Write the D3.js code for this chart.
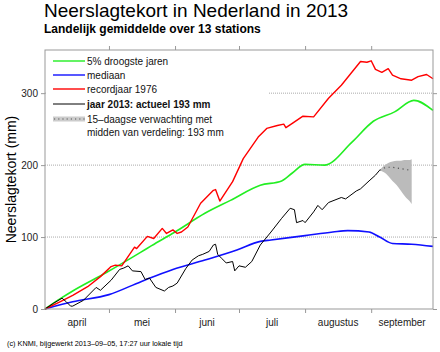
<!DOCTYPE html>
<html>
<head>
<meta charset="utf-8">
<script src="https://cdn.jsdelivr.net/npm/d3@7"></script>
<style>
  body { margin: 0; background: #fff; }
  svg { font-family: "Liberation Sans", Arial, Helvetica, sans-serif; }
</style>
</head>
<body>
<div id="chart"></div>
<script>
// Data (days counted from 1 April 2013, values in mm)
const months = ["april", "mei", "juni", "juli", "augustus", "september"];
const yTicks = [0, 100, 200, 300];

const greenDays = [0, 7, 13, 29, 45, 50, 61, 75, 87, 101, 111, 116, 122, 131, 144, 154, 164, 173, 182];
const greenVals = [0, 14, 25, 51, 79, 88, 107, 133, 151, 172, 178, 189, 201, 200, 232, 261, 274, 290, 276];

const blueDays = [0, 13, 30, 45, 60, 75, 90, 101, 106, 122, 135, 142, 152, 157, 163, 172, 182];
const blueVals = [0, 10, 20, 38, 55, 68, 82, 94, 96, 102, 107, 109, 107, 100, 91, 90, 87];

const redDays = [0, 7, 13, 20, 26, 31, 33, 36, 42, 43, 48, 51, 55, 57, 60, 62, 64, 67, 73, 79, 80, 82, 88, 93, 100, 104, 109, 112, 113, 116, 121, 126, 133, 139, 148, 151, 153, 155, 158, 161, 163, 167, 172, 175, 179, 182];
const redVals = [0, 10, 19, 31, 45, 59, 61, 60, 86, 84, 101, 98, 112, 105, 110, 105, 107, 114, 147, 165, 166, 150, 177, 209, 239, 251, 255, 257, 252, 258, 268, 267, 293, 311, 344, 343, 345, 333, 329, 334, 325, 320, 318, 323, 326, 320];

const blackDays = [0, 4, 8, 10, 12, 13, 18, 24, 26, 31, 35, 37, 39, 41, 45, 47, 49, 52, 56, 58, 60, 62, 66, 69, 72, 74, 77, 79, 80, 81, 83, 85, 88, 89, 91, 94, 97, 101, 106, 111, 115, 117, 118, 121, 122, 126, 128, 130, 133, 139, 141, 146, 148, 152, 155, 157];
const blackVals = [0, 8, 15, 10, 4, 4, 12, 30, 26, 40, 55, 57, 60, 53, 52, 41, 43, 30, 25, 30, 32, 36, 56, 68, 74, 76, 80, 89, 90, 76, 70, 64, 66, 53, 60, 58, 66, 89, 107, 126, 140, 138, 120, 123, 120, 135, 144, 138, 148, 155, 153, 164, 167, 178, 186, 193];

const fcDays = [157, 159, 161, 163, 165, 167, 169, 171, 172];
const fcMid  = [193, 196, 197, 197, 196, 195, 194, 193, 192];
const fcLow  = [193, 190, 185, 178, 172, 164, 156, 150, 146];
const fcHigh = [193, 199, 203, 205, 206, 206, 207, 207, 208];

const legendLabels = ["5% droogste jaren", "mediaan", "recordjaar 1976", "jaar 2013: actueel 193 mm", "15\u2013daagse verwachting met", "midden van verdeling: 193 mm"];

// Layout
const W = 440, H = 352;
const m = { left: 45, right: 7, top: 50, bottom: 43 };

const svg = d3.select("#chart").append("svg")
    .attr("width", W).attr("height", H);

const start = new Date(2013, 3, 1);
const end = new Date(2013, 8, 30);
const day = d => new Date(start.getTime() + d * 864e5);

const x = d3.scaleTime().domain([start, end]).range([m.left, W - m.right]);
const y = d3.scaleLinear().domain([0, 360]).range([H - m.bottom, m.top]);

const zip = (ds, vs) => ds.map((d, i) => ({ date: day(d), v: vs[i] }));

// Grid
svg.append("g").selectAll("line")
    .data(yTicks.slice(1))
    .enter().append("line")
    .attr("x1", m.left).attr("x2", W - m.right)
    .attr("y1", d => y(d)).attr("y2", d => y(d))
    .attr("stroke", "#aaa")
    .attr("stroke-dasharray", "1,1");

// Legend background covers the grid
svg.append("rect")
    .attr("x", m.left + 1).attr("y", m.top + 1)
    .attr("width", 223).attr("height", 90)
    .attr("fill", "#fff");

// Forecast band
const fc = fcDays.map((d, i) => ({ date: day(d), lo: fcLow[i], hi: fcHigh[i], mid: fcMid[i] }));
svg.append("path")
    .datum(fc)
    .attr("d", d3.area().x(d => x(d.date)).y0(d => y(d.lo)).y1(d => y(d.hi)).curve(d3.curveMonotoneX))
    .attr("fill", "#bbb");
svg.append("path")
    .datum(fc)
    .attr("d", d3.line().x(d => x(d.date)).y(d => y(d.mid)))
    .attr("fill", "none")
    .attr("stroke", "#555")
    .attr("stroke-width", 1.2)
    .attr("stroke-dasharray", "1.2,3.5");

// Lines
const line = d3.line().x(d => x(d.date)).y(d => y(d.v));
const smooth = d3.line().x(d => x(d.date)).y(d => y(d.v)).curve(d3.curveMonotoneX);

const series = [
    { data: zip(blueDays, blueVals), color: "#1010ff", w: 1.6, gen: smooth },
    { data: zip(greenDays, greenVals), color: "#22ee22", w: 1.6, gen: smooth },
    { data: zip(redDays, redVals), color: "#ff0000", w: 1.4, gen: line },
    { data: zip(blackDays, blackVals), color: "#000", w: 1, gen: line }
];
series.forEach(s => {
    svg.append("path")
        .datum(s.data)
        .attr("d", s.gen)
        .attr("fill", "none")
        .attr("stroke", s.color)
        .attr("stroke-width", s.w)
        .attr("stroke-linejoin", "round");
});

// Frame
svg.append("rect")
    .attr("x", m.left).attr("y", m.top)
    .attr("width", W - m.left - m.right).attr("height", H - m.top - m.bottom)
    .attr("fill", "none")
    .attr("stroke", "#999");

// Axes
const monthTicks = d3.timeMonth.range(d3.timeMonth.offset(start, 1), end);
const tickStyle = g => {
    g.select(".domain").remove();
    g.selectAll(".tick line").attr("stroke", "#999");
};
svg.append("g")
    .attr("transform", `translate(0,${H - m.bottom})`)
    .call(d3.axisBottom(x).tickValues(monthTicks).tickSize(4).tickFormat(""))
    .call(tickStyle);
svg.append("g")
    .attr("transform", `translate(0,${m.top})`)
    .call(d3.axisTop(x).tickValues(monthTicks).tickSize(4).tickFormat(""))
    .call(tickStyle);
svg.append("g")
    .attr("transform", `translate(${m.left},0)`)
    .call(d3.axisLeft(y).tickValues(yTicks).tickSize(4).tickPadding(3))
    .call(tickStyle)
    .call(g => g.selectAll("text").attr("fill", "#222").style("font-size", "10px").style("font-family", "inherit"));
svg.append("g")
    .attr("transform", `translate(${W - m.right},0)`)
    .call(d3.axisRight(y).tickValues(yTicks).tickSize(4).tickFormat(""))
    .call(tickStyle);

// Month labels, centred in each month
const monthStarts = d3.timeMonth.range(start, end);
svg.append("g").selectAll("text")
    .data(months)
    .enter().append("text")
    .attr("x", (d, i) => (x(monthStarts[i]) + x(i < 5 ? monthStarts[i + 1] : end)) / 2)
    .attr("y", H - m.bottom + 17)
    .attr("text-anchor", "middle")
    .style("font-size", "10px")
    .attr("fill", "#222")
    .text(d => d);

// Titles
svg.append("text").attr("x", 44).attr("y", 17)
    .style("font-size", "19px").text("Neerslagtekort in Nederland in 2013");
svg.append("text").attr("x", 44).attr("y", 33)
    .style("font-size", "12px").style("font-weight", "bold")
    .text("Landelijk gemiddelde over 13 stations");
svg.append("text")
    .attr("transform", `translate(16,${(m.top + H - m.bottom) / 2}) rotate(-90)`)
    .attr("text-anchor", "middle")
    .style("font-size", "14px")
    .text("Neerslagtekort (mm)");
svg.append("text").attr("x", 7).attr("y", 346)
    .style("font-size", "7.3px")
    .text("(c) KNMI, bijgewerkt 2013\u201309\u201305, 17:27 uur lokale tijd");

// Legend
const rows = [61, 75, 89, 104, 119];
const legColors = ["#22ee22", "#1010ff", "#ff0000", "#000"];
const leg = svg.append("g");
legColors.forEach((c, i) => {
    leg.append("line")
        .attr("x1", 53).attr("x2", 85)
        .attr("y1", rows[i]).attr("y2", rows[i])
        .attr("stroke", c).attr("stroke-width", i === 3 ? 1 : 1.4);
});
leg.append("rect").attr("x", 53).attr("y", rows[4] - 2.5).attr("width", 32).attr("height", 5).attr("fill", "#ccc");
leg.append("line").attr("x1", 54).attr("x2", 85).attr("y1", rows[4]).attr("y2", rows[4])
    .attr("stroke", "#555").attr("stroke-dasharray", "1.2,3");
legendLabels.forEach((t, i) => {
    leg.append("text")
        .attr("x", 87)
        .attr("y", i < 5 ? rows[i] + 3.5 : rows[4] + 16.5)
        .style("font-size", "10px")
        .style("font-weight", i === 3 ? "bold" : "normal")
        .attr("fill", "#111")
        .text(t);
});
</script>
</body>
</html>
